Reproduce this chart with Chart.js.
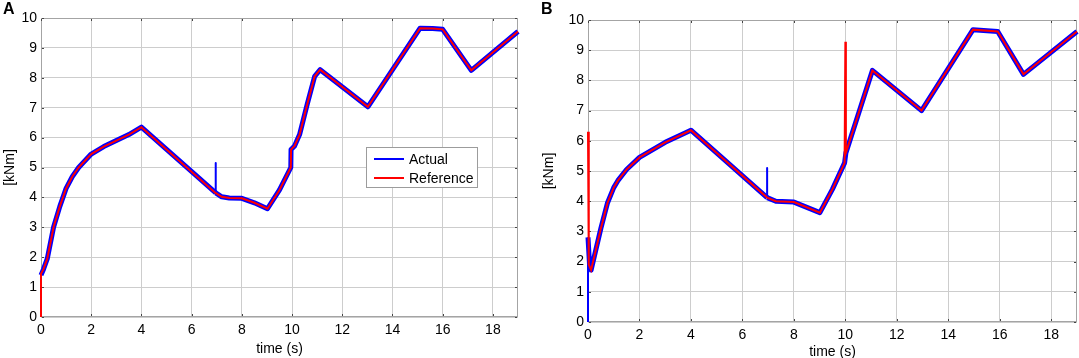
<!DOCTYPE html>
<html>
<head>
<meta charset="utf-8">
<script src="https://cdn.jsdelivr.net/npm/chart.js@4.4.0/dist/chart.umd.min.js"></script>
<style>
  html, body { margin: 0; padding: 0; background: #fff; }
  #wrap { position: relative; width: 1079px; height: 358px; overflow: hidden; }
  canvas { position: absolute; top: 0; }
  #chartA { left: 0; }
  #chartB { left: 539px; }
  .panel { position: absolute; top: 0; font: bold 16px "Liberation Sans", Arial, sans-serif; }
</style>
</head>
<body>
<div id="wrap">
  <canvas id="chartA" width="539" height="361"></canvas>
  <canvas id="chartB" width="540" height="361"></canvas>
  <div class="panel" style="left:3px;">A</div>
  <div class="panel" style="left:541px;">B</div>
</div>
<script>
// axis ranges
const xMax = 19;
const yMax = 10;
const seriesNames = ["Actual", "Reference"];

// Panel A - reference torque
const timeRefA = [0, 0, 0.1, 0.25, 0.5, 0.75, 1.0, 1.25, 1.5, 2.0, 2.5, 3.0, 3.5, 4.0, 6.95, 7.2, 7.5, 8.0, 8.5, 9.02, 9.5, 9.95, 9.96, 10.1, 10.3, 10.6, 10.9, 11.12, 13.02, 15.1, 15.6, 16.0, 17.14, 19.0];
const refA     = [0, 1.45, 1.6, 1.95, 3.0, 3.7, 4.3, 4.7, 5.0, 5.45, 5.7, 5.9, 6.1, 6.35, 4.15, 4.02, 3.98, 3.97, 3.82, 3.62, 4.25, 5.0, 5.6, 5.72, 6.1, 7.1, 8.05, 8.27, 7.03, 9.66, 9.65, 9.62, 8.25, 9.55];
// Panel A - actual torque (spike at 7 s)
const timeActA = [0, 0, 0.1, 0.25, 0.5, 0.75, 1.0, 1.25, 1.5, 2.0, 2.5, 3.0, 3.5, 4.0, 6.96, 6.96, 6.96, 7.2, 7.5, 8.0, 8.5, 9.02, 9.5, 9.95, 9.96, 10.1, 10.3, 10.6, 10.9, 11.12, 13.02, 15.1, 15.6, 16.0, 17.14, 19.0];
const actA     = [0, 1.4, 1.6, 1.95, 3.0, 3.7, 4.3, 4.7, 5.0, 5.45, 5.7, 5.9, 6.1, 6.35, 4.15, 5.15, 4.15, 4.02, 3.98, 3.97, 3.82, 3.62, 4.25, 5.0, 5.6, 5.72, 6.1, 7.1, 8.05, 8.27, 7.03, 9.66, 9.65, 9.62, 8.25, 9.55];

// Panel B - reference torque (spikes at 0 s and 10 s)
const timeRefB = [0, 0.03, 0.12, 0.3, 0.5, 0.76, 1.0, 1.16, 1.5, 2.0, 3.0, 4.0, 6.96, 7.3, 8.0, 9.01, 9.5, 9.97, 10.0, 10.02, 11.05, 12.96, 14.96, 15.92, 16.92, 19.0];
const refB     = [6.3, 1.9, 1.72, 2.37, 3.1, 3.95, 4.45, 4.68, 5.05, 5.45, 5.95, 6.35, 4.12, 4.0, 3.97, 3.62, 4.4, 5.27, 9.28, 5.6, 8.33, 7.0, 9.68, 9.62, 8.2, 9.62];
// Panel B - actual torque (spike at 7 s)
const timeActB = [0, 0, 0.06, 0.12, 0.3, 0.5, 0.76, 1.0, 1.16, 1.5, 2.0, 3.0, 4.0, 6.96, 6.96, 6.96, 7.3, 8.0, 9.01, 9.5, 9.97, 10.02, 11.05, 12.96, 14.96, 15.92, 16.92, 19.0];
const actB     = [0, 2.8, 1.9, 1.72, 2.37, 3.1, 3.95, 4.45, 4.68, 5.05, 5.45, 5.95, 6.35, 4.12, 5.1, 4.12, 4.0, 3.97, 3.62, 4.4, 5.27, 5.6, 8.33, 7.0, 9.68, 9.62, 8.2, 9.62];

Chart.defaults.font.family = '"Liberation Sans", Arial, sans-serif';
Chart.defaults.font.size = 14;
Chart.defaults.color = "#000";

const toPoints = (t, v) => t.map((x, i) => ({ x: x, y: v[i] }));

// matlab style box with inner tick marks, drawn under the lines
const boxPlugin = {
  id: "box",
  beforeDatasetsDraw(chart) {
    const { ctx, chartArea: a, scales } = chart;
    ctx.save();
    ctx.strokeStyle = "#a4a4a4";
    ctx.lineWidth = 1;
    ctx.strokeRect(a.left + 0.5, a.top + 0.5, a.right - a.left - 1, a.bottom - a.top - 1);
    ctx.fillStyle = "#444";
    scales.x.ticks.forEach(t => {
      const px = Math.round(scales.x.getPixelForValue(t.value));
      ctx.fillRect(px, a.top + 1, 1, 2);
      ctx.fillRect(px, a.bottom - 3, 1, 2);
    });
    scales.y.ticks.forEach(t => {
      const py = Math.round(scales.y.getPixelForValue(t.value));
      ctx.fillRect(a.left + 1, py, 2, 1);
      ctx.fillRect(a.right - 3, py, 2, 1);
    });
    ctx.restore();
  },
  // legend sits inside the axes, like matlab's default
  afterDraw(chart, args, opts) {
    if (!opts.legend) return;
    const { ctx, chartArea: a } = chart;
    const lx = a.left + 325, ly = a.top + 129, w = 111, h = 40;
    ctx.save();
    ctx.fillStyle = "#fff";
    ctx.fillRect(lx, ly, w, h);
    ctx.strokeStyle = "#9c9c9c";
    ctx.lineWidth = 1;
    ctx.strokeRect(lx + 0.5, ly + 0.5, w, h);
    ctx.font = '14px "Liberation Sans", Arial, sans-serif';
    ctx.textBaseline = "middle";
    chart.data.datasets.forEach((ds, i) => {
      const yy = ly + 12 + i * 19;
      ctx.strokeStyle = ds.borderColor;
      ctx.lineWidth = 2;
      ctx.beginPath();
      ctx.moveTo(lx + 8, yy);
      ctx.lineTo(lx + 38, yy);
      ctx.stroke();
      ctx.fillStyle = "#000";
      ctx.fillText(ds.label, lx + 43, yy + 1);
    });
    ctx.restore();
  }
};

function makeChart(id, actPts, refPts, area, showLegend) {
  const canvas = document.getElementById(id);
  const vertical = ctx => (ctx.p0.parsed.x === ctx.p1.parsed.x ? 2 : undefined);
  return new Chart(canvas, {
    type: "line",
    data: {
      datasets: [
        {
          label: seriesNames[0],
          data: actPts,
          borderColor: "#0000ff",
          borderWidth: 5,
          pointRadius: 0,
          borderJoinStyle: "round",
          clip: 3,
          order: 2,
          segment: { borderWidth: vertical }
        },
        {
          label: seriesNames[1],
          data: refPts,
          borderColor: "#ff0000",
          borderWidth: 2,
          pointRadius: 0,
          clip: 3,
          order: 1
        }
      ]
    },
    options: {
      responsive: false,
      animation: false,
      layout: { padding: { top: area.top, right: canvas.width - area.right, left: 0, bottom: 0 } },
      plugins: {
        legend: { display: false },
        tooltip: { enabled: false },
        box: { legend: showLegend }
      },
      scales: {
        x: {
          type: "linear",
          min: 0,
          max: xMax,
          ticks: { stepSize: 2, padding: 5, maxRotation: 0 },
          afterBuildTicks: s => { s.ticks = s.ticks.filter(t => t.value % 2 === 0); },
          afterFit: s => { s.height = canvas.height - area.bottom; },
          grid: { color: "#cdcdcd", drawTicks: false },
          border: { display: false },
          title: { display: true, text: "time (s)", padding: { top: 0, bottom: area.titlePad } }
        },
        y: {
          min: 0,
          max: yMax,
          ticks: { stepSize: 1, padding: 4 },
          afterFit: s => { s.width = area.left; },
          grid: { color: "#cdcdcd", drawTicks: false },
          border: { display: false },
          title: { display: true, text: "[kNm]", padding: { top: 2, bottom: 0 } }
        }
      }
    },
    plugins: [boxPlugin]
  });
}

makeChart("chartA", toPoints(timeActA, actA), toPoints(timeRefA, refA),
  { left: 41, top: 18, right: 518, bottom: 317, titlePad: 3 }, true);
makeChart("chartB", toPoints(timeActB, actB), toPoints(timeRefB, refB),
  { left: 49, top: 20, right: 538, bottom: 322, titlePad: 0 }, false);
</script>
</body>
</html>
